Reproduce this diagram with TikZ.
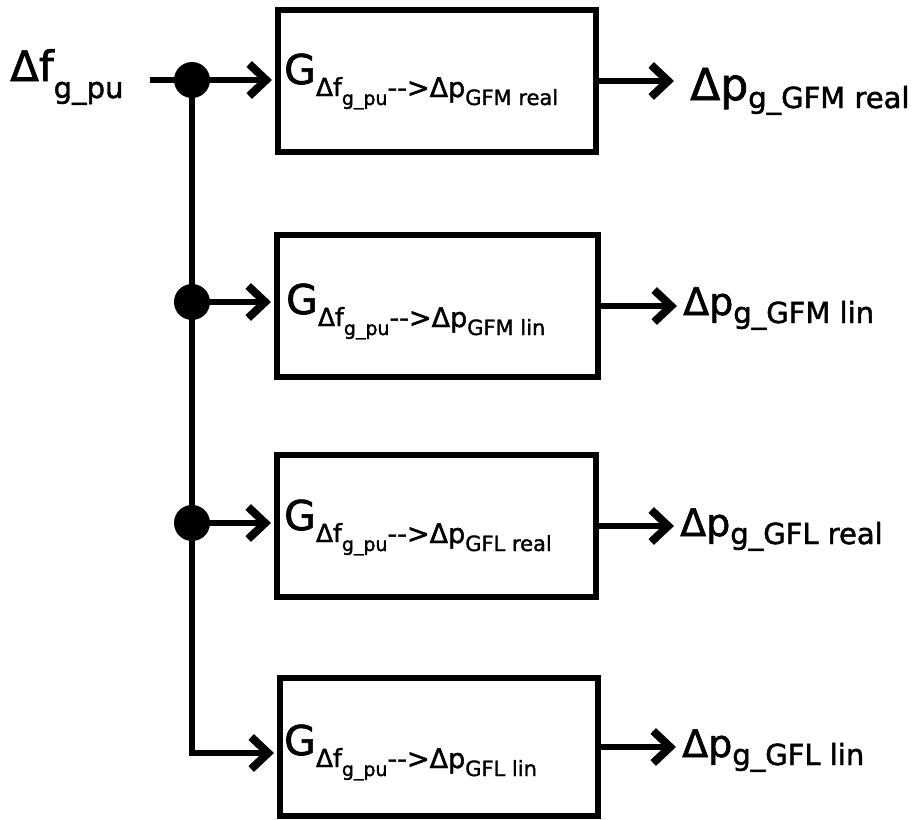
\documentclass[tikz,border=0pt]{standalone}
\usepackage{fontspec}
\setmainfont[FakeBold=1.6,AutoFakeBold=1.6]{DejaVu Sans}
\usetikzlibrary{arrows.meta}
\newcommand{\fs}[1]{\fontsize{#1}{#1}\selectfont}
\newcommand{\glbl}[1]{{\fs{41}G}\raisebox{-12pt}{\fs{25}Δf}\raisebox{-21pt}{\fs{19}\bfseries g\_pu}\raisebox{-13pt}{\fs{27}-{}->Δp}\raisebox{-21pt}{\fs{21}\bfseries #1}}
\newcommand{\olbl}[4]{{\fs{#1}Δp}\raisebox{-#3}{\fs{#2}#4}}
\begin{document}
\begin{tikzpicture}[x=1pt,y=-1pt,
  box/.style={draw, line width=6pt, inner sep=0pt},
  dot/.style={circle, fill=black, inner sep=0pt, minimum size=36pt},
  conn/.style={line width=5.5pt},
  arr/.style={line width=5.5pt, -{Straight Barb[length=17pt,width=32pt,line width=8pt]}},
  txt/.style={inner sep=0pt, anchor=base west}]
\useasboundingbox (0,0) rectangle (917,819);
% boxes
\node[box, minimum width=318pt, minimum height=142pt] (b1) at (437,81) {};
\node[box, minimum width=321pt, minimum height=142pt] (b2) at (437.5,306) {};
\node[box, minimum width=319pt, minimum height=142pt] (b3) at (436.5,526) {};
\node[box, minimum width=318pt, minimum height=138pt] (b4) at (439,747) {};
% box labels
\node[txt] (g1) at (284,84) {\glbl{GFM real}};
\node[txt] (g2) at (286,314) {\glbl{GFM lin}};
\node[txt] (g3) at (284,530) {\glbl{GFL real}};
\node[txt] (g4) at (284,755) {\glbl{GFL lin}};
% input
\node[txt] (in) at (10,81) {{\fs{42}Δf}\raisebox{-17pt}{\fs{29}g\_pu}};
\coordinate (s) at (150,80);
\node[dot] (d1) at (192,80) {};
\node[dot] (d2) at (192,302) {};
\node[dot] (d3) at (192,523) {};
\coordinate (c4) at (192,753);
\draw[conn] (s) -- (d1);
\draw[arr, shorten >=3pt] (d1) -- (d1 -| b1.west);
\draw[arr, shorten >=3pt] (d2) -- (d2 -| b2.west);
\draw[arr, shorten >=3pt] (d3) -- (d3 -| b3.west);
\draw[arr, shorten >=3pt] (d1.center) -- (c4) -- (c4 -| b4.west);
% outputs
\node[txt] (o1) at (690,100) {\olbl{44}{29}{8pt}{g\_GFM real}};
\node[txt] (o2) at (683,315) {\olbl{38}{29}{8pt}{g\_GFM lin}};
\node[txt] (o3) at (680,536) {\olbl{38}{29}{8pt}{g\_GFL real}};
\node[txt] (o4) at (682,757) {\olbl{38}{29}{8pt}{g\_GFL lin}};
\draw[arr, shorten >=16pt] (b1.east) -- (b1.east -| o1.west);
\draw[arr, shorten >=6pt] (b2.east) -- (b2.east -| o2.west);
\draw[arr, shorten >=6pt] (b3.east) -- (b3.east -| o3.west);
\draw[arr, shorten >=6pt] (b4.east) -- (b4.east -| o4.west);
\end{tikzpicture}
\end{document}
